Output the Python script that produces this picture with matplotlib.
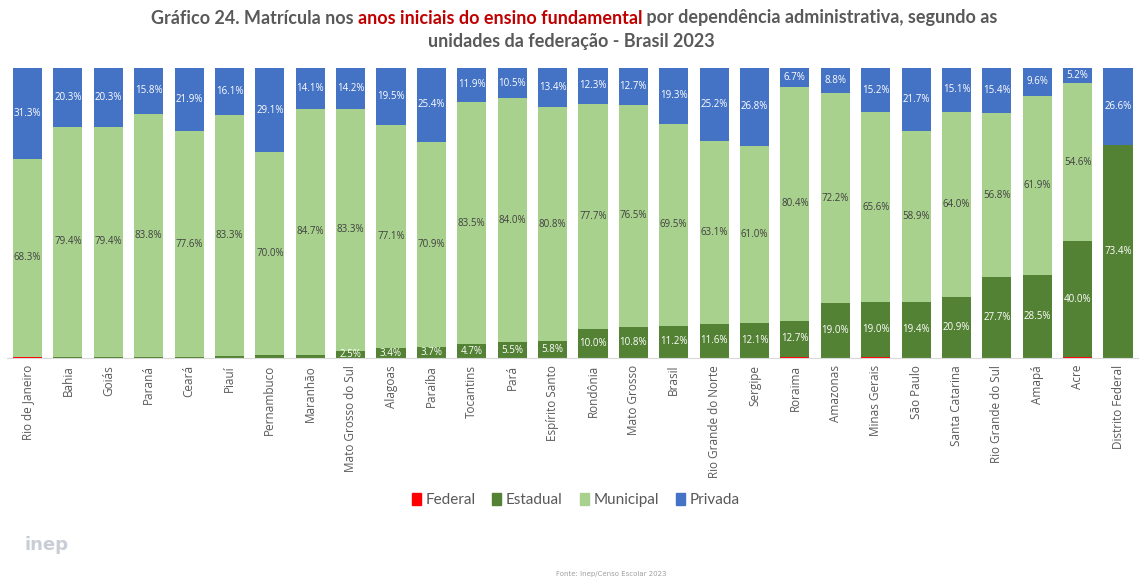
import numpy as np
import matplotlib
matplotlib.use("Agg")
import matplotlib.pyplot as plt
from matplotlib.patches import Patch

# dados (%)
ufs = ["Rio de Janeiro", "Bahia", "Goiás", "Paraná", "Ceará", "Piauí", "Pernambuco",
       "Maranhão", "Mato Grosso do Sul", "Alagoas", "Paraíba", "Tocantins", "Pará",
       "Espírito Santo", "Rondônia", "Mato Grosso", "Brasil", "Rio Grande do Norte",
       "Sergipe", "Roraima", "Amazonas", "Minas Gerais", "São Paulo", "Santa Catarina",
       "Rio Grande do Sul", "Amapá", "Acre", "Distrito Federal"]
federal = [0.3, 0.1, 0.1, 0.1, 0.1, 0.1, 0.1, 0.1, 0.0, 0.0, 0.0, 0.0, 0.0, 0.0,
           0.0, 0.0, 0.0, 0.1, 0.1, 0.2, 0.0, 0.2, 0.0, 0.0, 0.1, 0.0, 0.2, 0.0]
estadual = [0.1, 0.2, 0.2, 0.3, 0.4, 0.5, 0.8, 1.1, 2.5, 3.4, 3.7, 4.7, 5.5, 5.8,
            10.0, 10.8, 11.2, 11.6, 12.1, 12.7, 19.0, 19.0, 19.4, 20.9, 27.7, 28.5, 40.0, 73.4]
municipal = [68.3, 79.4, 79.4, 83.8, 77.6, 83.3, 70.0, 84.7, 83.3, 77.1, 70.9, 83.5, 84.0,
             80.8, 77.7, 76.5, 69.5, 63.1, 61.0, 80.4, 72.2, 65.6, 58.9, 64.0, 56.8, 61.9, 54.6, 0.0]
privada = [31.3, 20.3, 20.3, 15.8, 21.9, 16.1, 29.1, 14.1, 14.2, 19.5, 25.4, 11.9, 10.5,
           13.4, 12.3, 12.7, 19.3, 25.2, 26.8, 6.7, 8.8, 15.2, 21.7, 15.1, 15.4, 9.6, 5.2, 26.6]

c_fed, c_est, c_mun, c_priv = "#FF0000", "#548235", "#A9D18E", "#4472C4"
grey = "#595959"
font_t = ["Lato", "DejaVu Sans"]

fig = plt.figure(figsize=(11.42, 5.79), dpi=100)
ax = fig.add_axes([0.0064, 0.3817, 0.9903, 0.5009])

x = np.arange(len(ufs))
fed = np.array(federal)
est = np.array(estadual)
mun = np.array(municipal)
pri = np.array(privada)
w = 0.72
ax.bar(x, fed, w, color=c_fed, label="Federal")
ax.bar(x, est, w, bottom=fed, color=c_est, label="Estadual")
ax.bar(x, mun, w, bottom=fed + est, color=c_mun, label="Municipal")
ax.bar(x, pri, w, bottom=fed + est + mun, color=c_priv, label="Privada")

# rótulos
for i in x:
    if est[i] >= 2:
        ax.text(i, fed[i] + est[i] / 2, f"{est[i]:.1f}%", ha="center", va="center",
                fontsize=7, color="white", family="Open Sans")
    if mun[i] > 0:
        ax.text(i, fed[i] + est[i] + mun[i] / 2, f"{mun[i]:.1f}%", ha="center", va="center",
                fontsize=7, color="#404040", family="Open Sans")
    ax.text(i, fed[i] + est[i] + mun[i] + pri[i] / 2, f"{pri[i]:.1f}%", ha="center",
            va="center", fontsize=7, color="white", family="Open Sans")

ax.set_xlim(-0.5, len(ufs) - 0.5)
ax.set_ylim(0, 100)
ax.set_yticks([])
ax.set_xticks(x)
ax.set_xticklabels(ufs, rotation=90, fontsize=8.5, color=grey, family="Open Sans")
ax.tick_params(axis="x", length=0, pad=5)
for s in ["top", "left", "right"]:
    ax.spines[s].set_visible(False)
ax.spines["bottom"].set_color("#D9D9D9")

# título em duas cores
fig.canvas.draw()
r = fig.canvas.get_renderer()
parts = [("Gráfico 24. Matrícula nos ", grey),
         ("anos iniciais do ensino fundamental", "#C00000"),
         (" por dependência administrativa, segundo as", grey)]
texts = []
for s, c in parts:
    texts.append(fig.text(0, 0, s, color=c, fontsize=13, weight="bold", family=font_t,
                          va="center", ha="left"))
widths = [t.get_window_extent(r).width for t in texts]
x0 = (1142 - sum(widths)) / 2 + 3
for t, wd in zip(texts, widths):
    t.set_position((x0 / 1142, 1 - 18 / 579))
    x0 += wd
fig.text(0.5, 1 - 42 / 579, "unidades da federação - Brasil 2023", color=grey, fontsize=13,
         weight="bold", family=font_t, ha="center", va="center")

handles = [Patch(color=c) for c in [c_fed, c_est, c_mun, c_priv]]
fig.legend(handles, ["Federal", "Estadual", "Municipal", "Privada"], loc="center",
           bbox_to_anchor=(0.504, 1 - 500 / 579), ncol=4, frameon=False,
           prop={"family": font_t, "size": 11}, handlelength=0.6, handleheight=0.9,
           handletextpad=0.3, columnspacing=1.1, labelcolor=grey)

fig.text(25 / 1142, 1 - 545 / 579, "inep", fontsize=13, color="#C8CDD6", weight="bold",
         ha="left", va="center")
fig.text(0.535, 1 - 574 / 579, "Fonte: Inep/Censo Escolar 2023", fontsize=5, color="#A0A0A0",
         ha="center", va="center")

fig.savefig("out.png", dpi=100, facecolor="white")
